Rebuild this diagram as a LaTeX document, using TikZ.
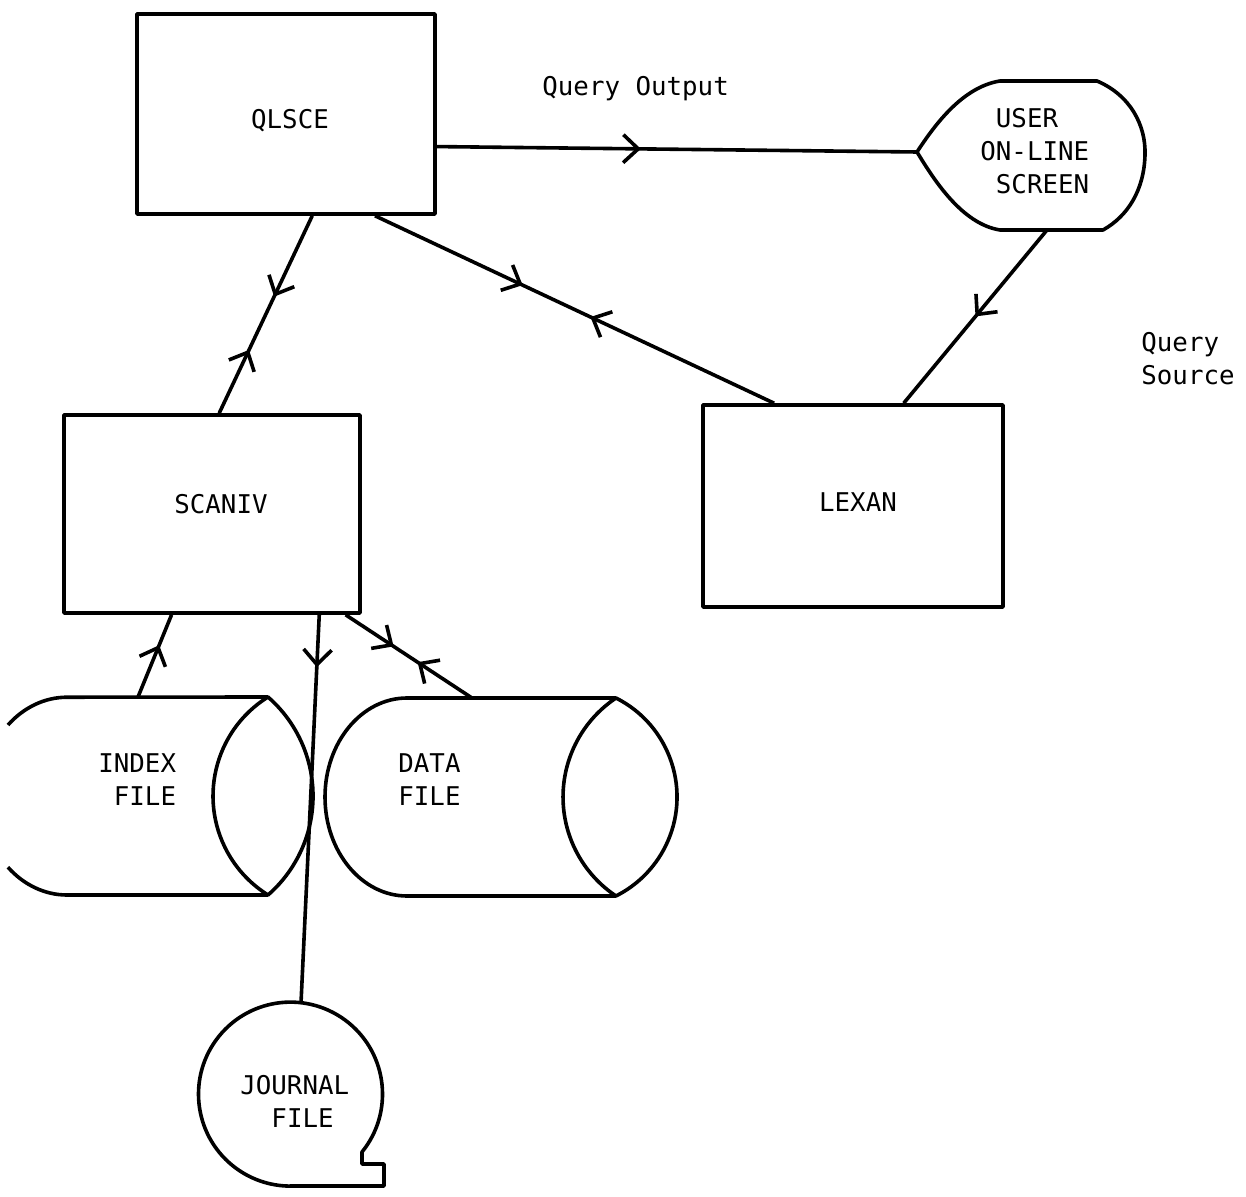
\documentclass[tikz,border=0pt]{standalone}
\usepackage{fontspec}
\setmonofont{DejaVu Sans Mono}
\usetikzlibrary{arrows.meta,decorations.markings,calc}

\tikzset{
  every node/.style={font=\ttfamily\fontsize{12.9}{16.5}\selectfont, inner sep=0pt},
  outline/.style={draw, line width=1.8pt, line join=round},
  box/.style={outline, rectangle},
  flow/.style={line width=1.8pt},
  >={Straight Barb[length=7.5pt,width=14pt]},
  fwd/.style={postaction={decorate,decoration={markings,mark=at position #1 with {\arrow{>}}}}},
  back/.style={postaction={decorate,decoration={markings,mark=at position #1 with {\arrowreversed{>}}}}}
}

\begin{document}
\begin{tikzpicture}[x=0.5pt,y=-0.5pt]
\useasboundingbox (0,0) rectangle (1246,1197);

% process boxes, names set slightly off the box centres
\node[box, minimum width=149pt, minimum height=100pt,
      label={[shift={(2pt,-3.5pt)}]center:QLSCE}] (qlsce) at (286,114) {};
\node[box, minimum width=148pt, minimum height=99pt,
      label={[shift={(4.5pt,5pt)}]center:SCANIV}] (scaniv) at (212,514) {};
\node[box, minimum width=150pt, minimum height=101pt,
      label={[shift={(2.5pt,2pt)}]center:LEXAN}] (lexan) at (853,506) {};

% on-line display symbol
\draw[outline] (917,152) .. controls (934,126) and (962,87) .. (1000,81) -- (1097,81)
  .. controls (1130,95) and (1146,125) .. (1145,155)
  .. controls (1144,190) and (1128,216) .. (1103,230) -- (1000,230)
  .. controls (962,224) and (934,180) .. cycle;
\node[anchor=west, align=left] (screen) at (980,151) {\phantom{O}USER\\ON-LINE\\\phantom{O}SCREEN};
\coordinate (screen-w) at (917,152);
\coordinate (screen-s) at (1047,230);

% index file drum
\draw[outline] (8,725) arc[start angle=-134,end angle=-90,x radius=85,y radius=99] -- (268,697)
  arc[start angle=-121.9,end angle=-238.1,radius=116.6] -- (67,895)
  arc[start angle=90,end angle=134,x radius=85,y radius=99];
\draw[outline] (268,697) arc[start angle=-48.9,end angle=48.9,radius=131.4];
\node[anchor=west, align=left] (index) at (98,780) {INDEX\\\phantom{I}FILE};
\coordinate (index-n) at (138,697);

% data file drum
\draw[outline] (407,698) -- (616,698) arc[start angle=-123.7,end angle=-236.3,radius=119]
  -- (407,896) arc[start angle=90,end angle=270,x radius=82,y radius=99] -- cycle;
\draw[outline] (616,698) arc[start angle=-63.3,end angle=63.3,radius=110.8];
\node[anchor=west, align=left] (data) at (398,780) {DATA\\FILE};
\coordinate (data-n) at (472,698);

% journal file tape
\draw[outline] (290,1186) -- (384,1186) -- (384,1164) -- (362,1164) -- (362,1152)
  arc[start angle=39,end angle=-270,radius=92] -- cycle;
\node[anchor=west, align=left] (journal) at (240,1101.5) {JOURNAL\\\phantom{JO}FILE};
\coordinate (journal-n) at (301,1003);

% labels
\node[anchor=west] (qout) at (542,89) {Query Output};
\node[anchor=west, align=left] (qsrc) at (1141,359) {Query\\Source};

% connectors
\draw[flow, fwd=0.425] ($(qlsce.north east)!0.66!(qlsce.south east)$) -- (screen-w);
\draw[flow, fwd=0.41, back=0.68] ($(qlsce.south west)!0.587!(qlsce.south east)$) -- ($(scaniv.north west)!0.524!(scaniv.north east)$);
\draw[flow, fwd=0.37, back=0.54] ($(qlsce.south west)!0.795!(qlsce.south east)$) -- ($(lexan.north west)!0.24!(lexan.north east)$);
\draw[flow, fwd=0.5] (screen-s) -- ($(lexan.north west)!0.667!(lexan.north east)$);
\draw[flow, fwd=0.63] (index-n) -- ($(scaniv.south west)!0.365!(scaniv.south east)$);
\draw[flow, fwd=0.135] ($(scaniv.south west)!0.858!(scaniv.south east)$) -- (journal-n);
\draw[flow, fwd=0.38, back=0.57] ($(scaniv.south west)!0.946!(scaniv.south east)$) -- (data-n);
\end{tikzpicture}
\end{document}
